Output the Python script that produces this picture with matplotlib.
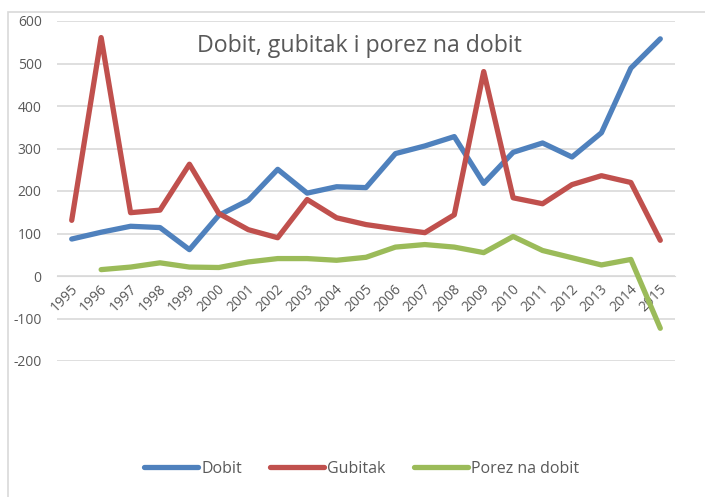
import matplotlib
matplotlib.use("Agg")
import matplotlib.pyplot as plt
from matplotlib.patches import Rectangle
from matplotlib.transforms import ScaledTranslation

years = [str(y) for y in range(1995, 2016)]
dobit = [87, 103, 117, 114, 62, 143, 178, 251, 195, 210, 208,
         288, 306, 328, 218, 291, 313, 280, 337, 489, 558]
gubitak = [131, 561, 149, 155, 263, 147, 109, 90, 180, 137, 121,
           111, 102, 144, 481, 184, 170, 215, 236, 220, 84]
porez_years = years[1:]
porez = [15, 21, 31, 21, 20, 33, 41, 41, 37, 44,
         68, 74, 68, 55, 93, 60, 43, 26, 39, -123]
y_ticks = [-200, -100, 0, 100, 200, 300, 400, 500, 600]

TEXT = "#595959"
GRID = "#D9D9D9"
plt.rcParams["font.family"] = ["Open Sans", "DejaVu Sans"]

fig = plt.figure(figsize=(7.05, 4.97), dpi=100)
fig.patches.append(Rectangle((8 / 705, -0.1), 1.2, 1 - 12 / 497 + 0.1,
                             transform=fig.transFigure, fill=False,
                             edgecolor=GRID, linewidth=1.2))

ax = fig.add_axes([57 / 705, (497 - 361) / 497, (675 - 57) / 705, (361 - 21) / 497])

x = list(range(len(years)))
px = x[1:]
ax.plot(x, dobit, color="#4F81BD", lw=3.8, solid_capstyle="round",
        solid_joinstyle="round", label="Dobit", zorder=3)
ax.plot(x, gubitak, color="#C0504D", lw=3.8, solid_capstyle="round",
        solid_joinstyle="round", label="Gubitak", zorder=3)
ax.plot(px, porez, color="#9BBB59", lw=3.8, solid_capstyle="round",
        solid_joinstyle="round", label="Porez na dobit", zorder=3)

# x labels sit on the zero line, like in Excel
ax.spines["bottom"].set_position(("data", 0))
ax.spines["bottom"].set_color(GRID)
for side in ["top", "right", "left"]:
    ax.spines[side].set_visible(False)

ax.set_xlim(-0.5, len(years) - 0.5)
ax.set_ylim(-200, 600)
ax.set_yticks(y_ticks)
ax.set_yticklabels([str(v) for v in y_ticks])
ax.yaxis.grid(True, color=GRID, lw=1.2)
ax.set_axisbelow(True)

ax.set_xticks(x)
ax.set_xticklabels(years)
ax.tick_params(axis="both", length=0, colors=TEXT, labelsize=10)
ax.tick_params(axis="y", pad=11)
ax.tick_params(axis="x", pad=8)
shift = ScaledTranslation(4 / 100, 0, fig.dpi_scale_trans)
for lab in ax.get_xticklabels():
    lab.set_rotation(45)
    lab.set_ha("right")
    lab.set_va("center")
    lab.set_rotation_mode("anchor")
    lab.set_transform(lab.get_transform() + shift)

ax.text(0.49, 0.925, "Dobit, gubitak i porez na dobit", transform=ax.transAxes,
        ha="center", va="center", fontsize=16.7, color=TEXT)

leg = fig.legend(loc="center", bbox_to_anchor=(0.5 + 9 / 705, (497 - 469) / 497),
                 ncol=3, frameon=False, fontsize=11.5, handlelength=3.4,
                 columnspacing=1.75, handletextpad=0.2)
for t in leg.get_texts():
    t.set_color(TEXT)

fig.savefig("out.png", dpi=100)
